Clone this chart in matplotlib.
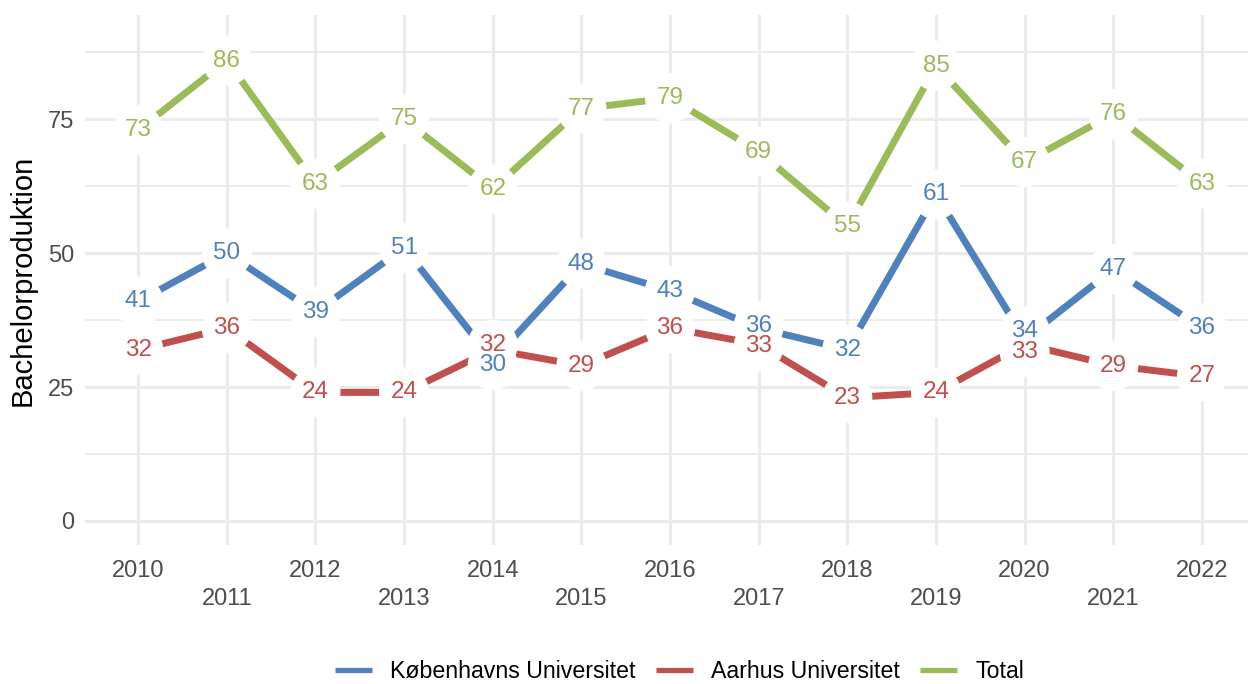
import matplotlib.pyplot as plt

plt.rcParams['font.family'] = ['Liberation Sans', 'DejaVu Sans']

# Bachelor production per year
years = list(range(2010, 2023))
ku = [41, 50, 39, 51, 30, 48, 43, 36, 32, 61, 34, 47, 36]
au = [32, 36, 24, 24, 32, 29, 36, 33, 23, 24, 33, 29, 27]
total = [73, 86, 63, 75, 62, 77, 79, 69, 55, 85, 67, 76, 63]

series = [
    ('Københavns Universitet', ku, '#4F81BD'),
    ('Aarhus Universitet', au, '#C0504D'),
    ('Total', total, '#9BBB59'),
]

fig = plt.figure(figsize=(12.48, 6.84), dpi=100)
ax = fig.add_axes([85 / 1248, 139 / 684, 1 - 85 / 1248, (545 - 15) / 684])

for name, vals, col in series:
    ax.plot(years, vals, color=col, lw=5, solid_capstyle='butt', label=name, zorder=2)

# label positions, pushed apart a little where two labels would collide
label_y = {name: list(vals) for name, vals, _ in series}
for i in range(len(years)):
    a, b = ku[i], au[i]
    if abs(a - b) < 3.8:
        c = (a + b) / 2
        hi, lo = c + 1.9, c - 1.9
        label_y['Københavns Universitet'][i] = hi if a >= b else lo
        label_y['Aarhus Universitet'][i] = lo if a >= b else hi

for name, vals, col in series:
    ys = label_y[name]
    ax.scatter(years, ys, s=1300, color='white', edgecolors='none', zorder=3)
    for x, y, v in zip(years, ys, vals):
        ax.text(x, y, str(v), color=col, fontsize=17.5, ha='center', va='center', zorder=4)

ax.set_xlim(2009.4, 2022.52)
ax.set_ylim(-4.5, 94.5)
ax.set_yticks([0, 25, 50, 75])
ax.set_yticks([12.5, 37.5, 62.5, 87.5], minor=True)
ax.set_xticks(years)
ax.set_xticklabels([str(y) if y % 2 == 0 else '\n' + str(y) for y in years])
ax.grid(which='major', color='#EBEBEB', lw=2.2)
ax.grid(which='minor', axis='y', color='#EBEBEB', lw=1.4)
ax.set_axisbelow(True)
for s in ax.spines.values():
    s.set_visible(False)
ax.tick_params(which='both', length=0, labelsize=17, labelcolor='#4D4D4D')
ax.tick_params(axis='x', pad=11)
ax.tick_params(axis='y', pad=8)
for t in ax.get_xticklabels():
    t.set_linespacing(1.35)
ax.set_ylabel('Bachelorproduktion', fontsize=21, color='black', labelpad=8)

leg = fig.legend(loc='center', bbox_to_anchor=(0.5445, 0.018), ncol=3, frameon=False,
                 fontsize=16.7, handlelength=1.6, handletextpad=0.8, columnspacing=0.85)
for h in leg.get_lines():
    h.set_linewidth(3.8)

fig.savefig('out.png', dpi=100)
